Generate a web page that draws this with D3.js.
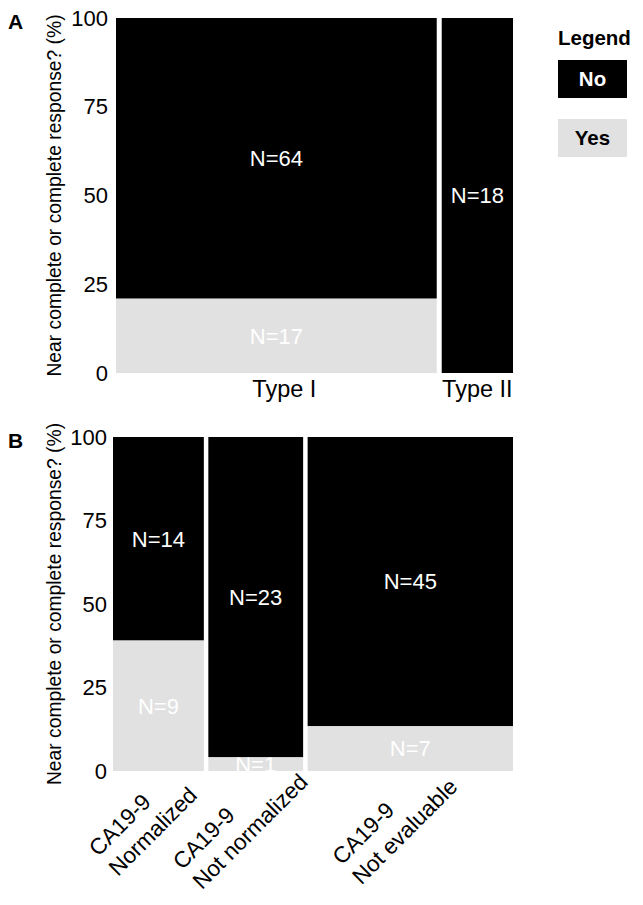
<!DOCTYPE html>
<html><head><meta charset="utf-8">
<script src="https://cdn.jsdelivr.net/npm/d3@7"></script>
<style>body{margin:0;background:#fff}svg{display:block}text{font-family:"Liberation Sans",Arial,sans-serif}</style>
</head><body><div id="chart"></div>
<script>
// Panel A data
const catsA = ["Type I", "Type II"];
const noA = [64, 18];
const yesA = [17, 0];
// Panel B data
const catsB = [["CA19-9", "Normalized"], ["CA19-9", "Not normalized"], ["CA19-9", "Not evaluable"]];
const noB = [14, 23, 45];
const yesB = [9, 1, 7];
const yTicks = [0, 25, 50, 75, 100];
const legendItems = ["No", "Yes"];
const yTitle = "Near complete or complete response? (%)";

const W = 643, H = 905;
const colNo = "#000000", colYes = "#e1e1e1";
const svg = d3.select("#chart").append("svg").attr("width", W).attr("height", H);

function panel(cfg) {
  const {cats, no, yes, x0, x1, yTop, yBot, gap, letter, letterY, titleX, tickX} = cfg;
  const totals = no.map((n, i) => n + yes[i]);
  const grand = d3.sum(totals);
  const avail = (x1 - x0) - gap * (cats.length - 1);
  const xs = d3.scaleLinear().domain([0, grand]).range([0, avail]);
  const y = d3.scaleLinear().domain([0, 100]).range([yBot, yTop]);
  const g = svg.append("g");
  let cum = 0;
  const bars = cats.map((c, i) => {
    const left = x0 + xs(cum) + gap * i;
    const w = xs(totals[i]);
    cum += totals[i];
    const pYes = 100 * yes[i] / totals[i];
    return {c, i, left, w, pYes};
  });
  // yes segments
  bars.forEach(b => {
    if (yes[b.i] > 0) {
      g.append("rect").attr("x", b.left).attr("width", b.w)
        .attr("y", y(b.pYes)).attr("height", y(0) - y(b.pYes)).attr("fill", colYes);
      g.append("text").attr("x", b.left + b.w / 2).attr("y", (y(b.pYes) + y(0)) / 2)
        .attr("dy", "0.36em").attr("text-anchor", "middle").attr("fill", "#fff")
        .attr("font-size", 22).text("N=" + yes[b.i]);
    }
    g.append("rect").attr("x", b.left).attr("width", b.w)
      .attr("y", y(100)).attr("height", y(b.pYes) - y(100)).attr("fill", colNo);
    g.append("text").attr("x", b.left + b.w / 2).attr("y", (y(100) + y(b.pYes)) / 2)
      .attr("dy", "0.36em").attr("text-anchor", "middle").attr("fill", "#fff")
      .attr("font-size", 22).text("N=" + no[b.i]);
  });
  // y axis
  const ax = g.append("g").attr("transform", `translate(${tickX},0)`)
    .call(d3.axisLeft(y).tickValues(yTicks).tickSize(0).tickPadding(0));
  ax.select(".domain").remove();
  ax.selectAll("text").attr("font-size", 22).attr("fill", "#000")
    .attr("font-family", '"Liberation Sans",Arial,sans-serif');
  // y title
  g.append("text").attr("transform", `translate(${titleX},${(yTop + yBot) / 2}) rotate(-90)`)
    .attr("text-anchor", "middle").attr("font-size", 19.3).attr("fill", "#000").text(yTitle);
  // panel letter
  g.append("text").attr("x", 8).attr("y", letterY).attr("font-size", 21)
    .attr("font-weight", "bold").text(letter);
  return {g, bars, y};
}

// Panel A
const pA = panel({cats: catsA, no: noA, yes: yesA, x0: 116, x1: 513, yTop: 18, yBot: 373,
  gap: 5, letter: "A", letterY: 29, titleX: 61, tickX: 108});
pA.bars.forEach(b => {
  pA.g.append("text").attr("x", b.left + b.w / 2 + (b.i === 0 ? 8 : 0)).attr("y", 397)
    .attr("text-anchor", "middle").attr("font-size", 23.5).text(b.c);
});

// Panel B
const pB = panel({cats: catsB, no: noB, yes: yesB, x0: 113, x1: 513, yTop: 437, yBot: 771,
  gap: 4.5, letter: "B", letterY: 448, titleX: 61, tickX: 107});
pB.bars.forEach(b => {
  const lab = pB.g.append("g")
    .attr("transform", `translate(${b.left + b.w / 2 - 20},817) rotate(-45)`);
  const t2 = lab.append("text").attr("font-size", 22.5).attr("y", 28).text(b.c[1]);
  const L = Math.max(t2.node().getComputedTextLength(), 0);
  const t1 = lab.append("text").attr("font-size", 22.5).attr("y", 0).text(b.c[0]);
  const L1 = t1.node().getComputedTextLength();
  const LL = Math.max(L, L1);
  t1.attr("x", -LL / 2);
  t2.attr("x", -LL / 2);
});

// Legend
const lg = svg.append("g");
lg.append("text").attr("x", 558).attr("y", 45).attr("font-size", 20.5)
  .attr("font-weight", "bold").text("Legend");
legendItems.forEach((k, i) => {
  const yy = 60 + i * 59;
  lg.append("rect").attr("x", 558).attr("y", yy).attr("width", 69).attr("height", 38)
    .attr("fill", k === "No" ? colNo : colYes);
  lg.append("text").attr("x", 592.5).attr("y", yy + 19).attr("dy", "0.36em")
    .attr("text-anchor", "middle").attr("font-size", 20.5).attr("font-weight", "bold")
    .attr("fill", k === "No" ? "#fff" : "#000").text(k);
});
</script></body></html>
